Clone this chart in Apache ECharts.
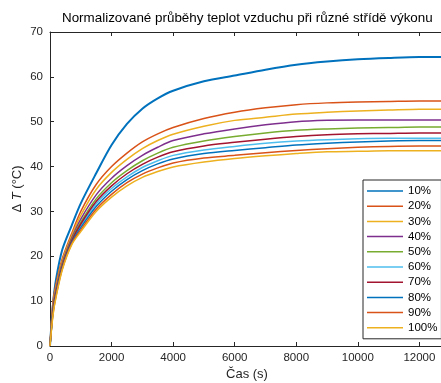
<!DOCTYPE html>
<html><head><meta charset="utf-8">
<script src="https://cdn.jsdelivr.net/npm/echarts@6/dist/echarts.min.js"></script>
<style>html,body{margin:0;padding:0;background:#fff}#c{width:441px;height:383px}</style>
</head><body><div id="c"></div>
<script>
// time points (s)
const times = [0, 100, 200, 400, 700, 1000, 1500, 2000, 2500, 3000, 3500, 4000, 5000, 6000, 7000, 8000, 9000, 10000, 11000, 12000, 12800];
// temperature rise (°C) per duty cycle
const s10  = [0, 9.5, 15.0, 21.5, 26.8, 31.8, 38.5, 44.8, 49.5, 52.9, 55.2, 56.9, 59.0, 60.3, 61.6, 62.7, 63.4, 63.9, 64.2, 64.4, 64.4];
const s20  = [0, 10.0, 14.0, 19.5, 25.0, 30.0, 36.0, 40.0, 43.0, 45.5, 47.3, 48.7, 50.7, 52.1, 53.1, 53.8, 54.2, 54.4, 54.5, 54.6, 54.6];
const s30  = [0, 9.4, 13.4, 19.0, 24.5, 29.1, 34.9, 38.7, 41.6, 44.0, 45.8, 47.2, 49.0, 50.3, 51.0, 51.7, 52.1, 52.4, 52.6, 52.8, 52.8];
const s40  = [0, 8.9, 12.9, 18.5, 24.0, 28.3, 33.7, 37.4, 40.2, 42.5, 44.3, 45.8, 47.3, 48.4, 49.3, 50.0, 50.3, 50.4, 50.4, 50.4, 50.4];
const s50  = [0, 8.4, 12.4, 18.2, 23.7, 27.6, 32.8, 36.4, 39.1, 41.3, 43.0, 44.3, 45.7, 46.7, 47.5, 48.1, 48.4, 48.6, 48.7, 48.8, 48.8];
const s60  = [0, 7.8, 11.8, 17.7, 23.2, 26.8, 31.7, 35.1, 37.7, 39.8, 41.3, 42.5, 43.7, 44.5, 45.2, 45.7, 46.0, 46.2, 46.3, 46.3, 46.3];
const s70  = [0, 8.1, 12.1, 17.9, 23.4, 27.2, 32.2, 35.7, 38.4, 40.5, 42.1, 43.3, 44.6, 45.4, 46.1, 46.7, 47.1, 47.3, 47.4, 47.5, 47.5];
const s80  = [0, 7.6, 11.6, 17.5, 23.0, 26.4, 31.1, 34.5, 37.1, 39.1, 40.6, 41.7, 42.9, 43.6, 44.2, 44.8, 45.2, 45.5, 45.7, 45.8, 45.8];
const s90  = [0, 7.3, 11.3, 17.2, 22.7, 25.9, 30.5, 33.8, 36.4, 38.3, 39.7, 40.8, 41.9, 42.5, 43.1, 43.6, 44.0, 44.3, 44.5, 44.6, 44.6];
const s100 = [0, 7.0, 11.0, 17.0, 22.5, 25.5, 30.0, 33.2, 35.7, 37.6, 38.9, 39.9, 41.0, 41.8, 42.4, 42.9, 43.3, 43.4, 43.5, 43.5, 43.5];
const seriesNames = ['10%', '20%', '30%', '40%', '50%', '60%', '70%', '80%', '90%', '100%'];
const seriesValues = [s10, s20, s30, s40, s50, s60, s70, s80, s90, s100];
const colors = ['#0072BD', '#D95319', '#EDB120', '#7E2F8E', '#77AC30', '#4DBEEE', '#A2142F', '#0072BD', '#D95319', '#EDB120'];
const titleText = 'Normalizované průběhy teplot vzduchu při různé střídě výkonu';
const xName = 'Čas (s)';

const FONT = '"Liberation Sans", Arial, sans-serif';
const AX = '#262626';
const chart = echarts.init(document.getElementById('c'), null, { renderer: 'canvas' });

const xCommon = {
  type: 'value', min: 0, max: 12800, interval: 2000,
  axisLine: { show: true, lineStyle: { color: AX, width: 1 } },
  axisTick: { show: true, inside: true, length: 4, lineStyle: { color: AX } },
  splitLine: { show: false }
};
const lineIcon = 'path://M0,0M36,12M0,5.25H36V6.75H0Z';

chart.setOption({
  animation: false,
  color: colors,
  textStyle: { fontFamily: FONT },
  title: {
    text: titleText, left: 62, top: 12, padding: 0,
    textStyle: { fontSize: 13.4, fontWeight: 'normal', color: '#000', fontFamily: FONT }
  },
  grid: { left: 50, top: 32, right: -3, bottom: 37, containLabel: false, outerBoundsMode: 'none' },
  legend: {
    orient: 'vertical', left: 363, top: 180,
    padding: [5, 4, 5, 4],
    itemWidth: 36, itemHeight: 12, itemGap: 3.2,
    symbolKeepAspect: false,
    borderColor: AX, borderWidth: 1, backgroundColor: '#fff',
    textStyle: { fontSize: 11.5, color: '#000', fontFamily: FONT },
    data: seriesNames.map(n => ({ name: n, icon: lineIcon }))
  },
  xAxis: [
    Object.assign({}, xCommon, {
      position: 'bottom',
      name: xName, nameLocation: 'middle', nameGap: 22, nameMoveOverlap: false,
      nameTextStyle: { fontSize: 13, color: AX, fontFamily: FONT },
      axisLabel: {
        color: AX, fontSize: 11.5, margin: 6, fontFamily: FONT,
        formatter: v => (v % 2000 === 0 ? String(v) : '')
      }
    }),
    Object.assign({}, xCommon, { position: 'top', axisLabel: { show: false } })
  ],
  yAxis: {
    type: 'value', min: 0, max: 70, interval: 10,
    name: 'Δ {it|T} (°C)', nameLocation: 'middle', nameGap: 26, nameMoveOverlap: false,
    nameTextStyle: {
      fontSize: 13, color: AX, fontFamily: FONT,
      rich: { it: { fontStyle: 'italic', fontSize: 13, color: AX, fontFamily: FONT } }
    },
    axisLine: { show: true, lineStyle: { color: AX, width: 1 } },
    axisTick: { show: true, inside: true, length: 4, lineStyle: { color: AX } },
    axisLabel: { color: AX, fontSize: 11.5, margin: 7, fontFamily: FONT },
    splitLine: { show: false }
  },
  series: seriesNames.map((name, i) => ({
    name: name, type: 'line', xAxisIndex: 0,
    data: times.map((t, j) => [t, seriesValues[i][j]]),
    symbol: 'none', showSymbol: false,
    smooth: 0.3,
    lineStyle: { width: i === 0 ? 2 : 1.5, color: colors[i] },
    itemStyle: { color: colors[i] },
    emphasis: { disabled: true }
  }))
});
</script></body></html>
